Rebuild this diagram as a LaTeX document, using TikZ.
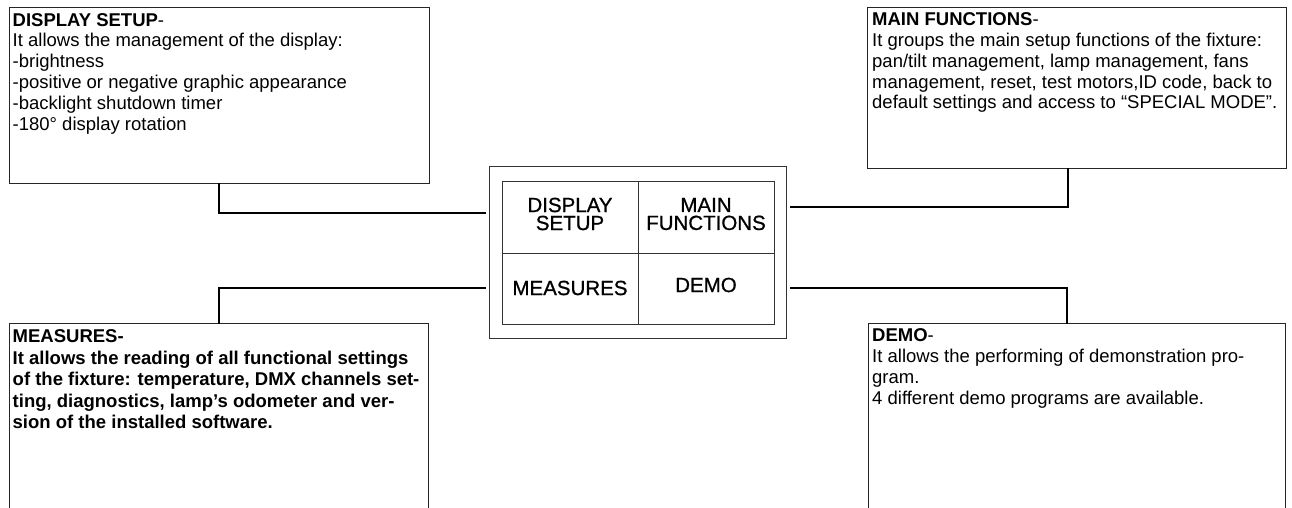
\documentclass[tikz,border=0pt]{standalone}
\usepackage{fontspec}
\setmainfont{Liberation Sans}
\newfontfamily\cellfont{Liberation Sans}[FakeBold=0.8]
\begin{document}
\begin{tikzpicture}[x=1pt,y=-1pt,
  descbox/.style={draw=black!85,line width=1.3pt,anchor=north west,inner sep=0pt,minimum width=#1},
  desctext/.style={anchor=north west,inner sep=0pt,align=left,font=\fontsize{18.5}{20.8}\selectfont},
  conn/.style={draw=black,line width=2.2pt,line cap=rect},
  cell/.style={font=\cellfont\fontsize{20.5}{18}\selectfont,align=center,inner sep=0pt},
  panel/.style={draw=black!80,line width=1pt,anchor=north west,inner sep=0pt}]
\useasboundingbox (0,0) rectangle (1292,508);
\clip (0,0) rectangle (1292,508);
% central panel
\node[panel,minimum width=297pt,minimum height=172pt] (outer) at (489,166) {};
\node[panel,minimum width=272pt,minimum height=143pt] (inner) at (502,181) {};
\draw[black!80,line width=1pt] (inner.north) -- (inner.south);
\draw[black!80,line width=1pt] (inner.west) -- (inner.east);
\node[cell] (cds) at (570,214) {DISPLAY\\SETUP};
\node[cell] (cmf) at (706,214) {MAIN\\FUNCTIONS};
\node[cell] (cme) at (570,288) {MEASURES};
\node[cell] (cde) at (706,285) {DEMO};
% description boxes
\node[descbox=420pt,minimum height=176pt] (tl) at (9,7) {};
\node[descbox=419pt,minimum height=161pt] (tr) at (867,7) {};
\node[descbox=419pt,minimum height=220pt] (bl) at (9,323) {};
\node[descbox=417pt,minimum height=220pt] (br) at (868,323) {};
\node[desctext] (tlt) at (12.5,13) {\textbf{DISPLAY SETUP}-\\It allows the management of the display:\\-brightness\\-positive or negative graphic appearance\\-backlight shutdown timer\\-180° display rotation};
\node[desctext] (trt) at (872,12.5) {\textbf{MAIN FUNCTIONS}-\\It groups the main setup functions of the fixture:\\pan/tilt management, lamp management, fans\\management, reset, test motors,ID code, back to\\default settings and access to “SPECIAL MODE”.};
\node[desctext,font=\bfseries\fontsize{18.5}{21.5}\selectfont] (blt) at (12.5,329.5) {MEASURES-\\It allows the reading of all functional settings\\of the fixture: temperature, DMX channels set-\\ting, diagnostics, lamp’s odometer and ver-\\sion of the installed software.};
\node[desctext] (brt) at (872,328.5) {\textbf{DEMO}-\\It allows the performing of demonstration pro-\\gram.\\4 different demo programs are available.};
% connector ends near the panel
\coordinate (ltop) at (485,213);
\coordinate (lbot) at (485,288);
\coordinate (rtop) at (791,207);
\coordinate (rbot) at (791,288);
\draw[conn] ([xshift=210pt]tl.south west) |- (ltop);
\draw[conn] ([xshift=201pt]tr.south west) |- (rtop);
\draw[conn] ([xshift=210pt]bl.north west) |- (lbot);
\draw[conn] ([xshift=199pt]br.north west) |- (rbot);
\end{tikzpicture}
\end{document}
